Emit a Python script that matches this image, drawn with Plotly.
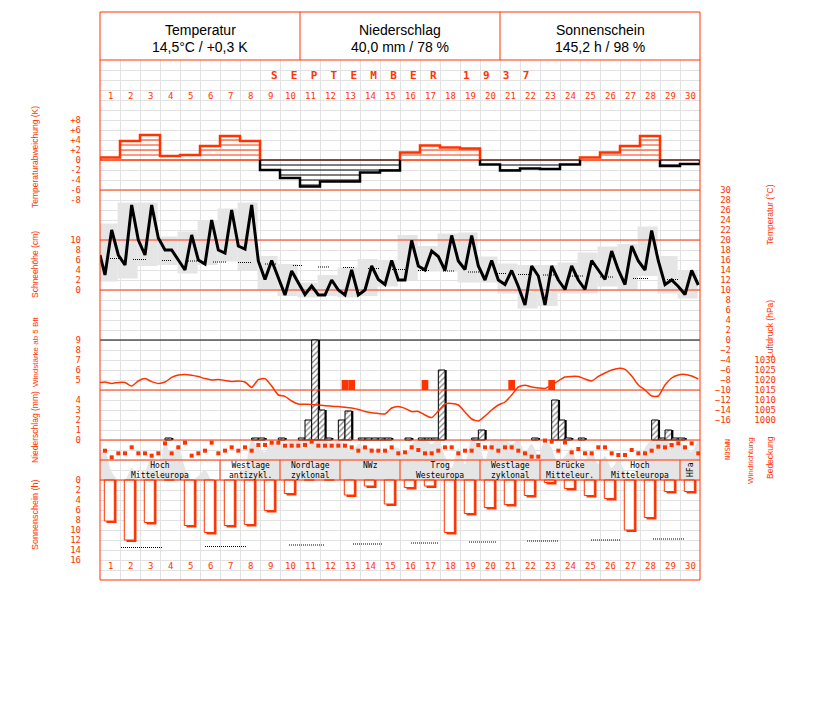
import plotly.graph_objects as go

W, H = 819, 694          # page has an 8 px body margin
OFF = 8
RED = "#ff3300"
GRID = "#e2e2e2"
GREY = "#e5e5e5"
MONO = "DejaVu Sans Mono, Liberation Mono, monospace"
SANS = "Liberation Sans, Arial, sans-serif"

# ---------------- data ----------------
days = list(range(1, 31))
header_titles = ["Temperatur", "Niederschlag", "Sonnenschein"]
header_values = ["14,5°C / +0,3 K", "40,0 mm / 78 %", "145,2 h / 98 %"]
month_title = "SEPTEMBER 1937"

# daily temperature deviation (K)
dev_k = [0.5, 3.8, 5.0, 0.8, 1.0, 2.8, 4.8, 3.8, -2.0, -3.6, -5.3, -4.3, -4.3, -2.5, -2.1,
         1.5, 2.9, 2.5, 2.3, -0.9, -2.1, -1.7, -1.8, -0.9, 0.5, 1.5, 2.8, 4.8, -1.2, -0.8]

# air temperature (°C) at 7, 14, 21 h, plus previous evening value
temp_start = 17.0
temp_07 = [13, 15, 17, 18, 14, 15.2, 17.4, 18.2, 12.1, 9, 9.1, 9, 9, 10, 11.1,
           12, 14, 13.9, 14.1, 12, 11.1, 7, 7, 10.1, 10.1, 12.1, 11.1, 14, 11.1, 9.1]
temp_14 = [22, 27, 27, 18, 21, 24, 26, 27, 15.9, 13.8, 10.8, 12, 14, 14.8, 15.9,
           19.9, 17.8, 20.9, 20.9, 15.9, 13.9, 14.8, 14.8, 14.8, 15.9, 17.8, 18.8, 21.9, 12, 13.9]
temp_21 = [17, 20, 20.4, 16, 16, 18, 18.8, 15.8, 12.5, 11.3, 9, 10, 9, 12.1, 12,
           14.8, 16.7, 15.8, 14.8, 12, 10.7, 12.8, 12, 12, 14, 14, 15.8, 15.8, 10.7, 11]
temp_max = [23.3, 27.5, 27.5, 20.7, 21.7, 24, 26.3, 27.5, 16.8, 15.2, 11.5, 13, 14.5, 16.2, 16,
            21, 18.8, 21.3, 21.5, 16.7, 15.3, 15, 15, 15.5, 17.5, 18.7, 19.2, 22.7, 16.8, 14]
temp_min = [11.7, 12.3, 14.8, 15, 13.3, 15, 15.7, 14, 10.1, 8.8, 8.5, 8.8, 8.5, 8.8, 10.7,
            12, 13.7, 13.7, 11.5, 11.5, 9.3, 6.3, 6.8, 9.3, 9.3, 10.7, 10.1, 12.8, 9.3, 8.3]
# long-term mean temperature (dotted segments)
clim_t_from = [0.9, 2.15, 3.6, 4.9, 6.15, 7.4, 8.75, 10.15, 11.4, 12.65, 13.9, 15.1, 16.4,
               17.65, 18.9, 20.25, 21.4, 22.65, 24.0, 25.5, 27.15, 28.85]
clim_t_to = [1.5, 2.8, 4.1, 5.35, 6.8, 8.1, 9.35, 10.65, 12.0, 13.25, 14.5, 15.75, 17.0,
             18.25, 19.5, 20.85, 22.1, 23.35, 24.65, 26.15, 27.9, 29.4]
clim_t = [16.3, 16.1, 15.9, 15.8, 15.6, 15.5, 15.2, 14.9, 14.6, 14.5, 14.3, 14.1, 13.9,
          13.8, 13.6, 13.3, 13.1, 13.0, 12.8, 12.6, 12.3, 12.1]

# air pressure (hPa) at 7, 14, 21 h
pres_start = 1018.7
pres_07 = [1019, 1018.8, 1020.7, 1019, 1022.8, 1020.7, 1019.8, 1019, 1020.7, 1011.8, 1007.9, 1007.1,
           1006.4, 1004.3, 1003, 1005.8, 1002.5, 1008, 1004, 1002, 1009, 1017.4, 1015.8, 1021.5,
           1020.5, 1023.5, 1025.3, 1015, 1017.5, 1022.8]
pres_14 = [1018.3, 1017, 1019.2, 1021.3, 1022.4, 1020, 1019.3, 1016.3, 1017, 1009.5, 1007.8, 1006.9,
           1006, 1003.6, 1006, 1004.2, 1001.2, 1008.3, 1000.5, 1005, 1012.5, 1016.5, 1017.5, 1021.8,
           1019.5, 1025, 1022, 1012, 1021, 1022]
pres_21 = [1018.8, 1019.5, 1018.3, 1022.5, 1021.7, 1020.3, 1019.5, 1020.2, 1012.5, 1008, 1007.5, 1006.7,
           1005.3, 1003.3, 1006.8, 1004.3, 1004.5, 1007.5, 999.5, 1007.5, 1016.5, 1016, 1019.6, 1021.7,
           1021.8, 1025.8, 1017.5, 1012, 1022.5, 1020.5]

# wind force >= 5 Bft (day, observation 0=7h 1=14h 2=21h)
wind_day = [13, 13, 17, 21, 23]
wind_obs = [0, 1, 0, 1, 1]
wind_bft = [5, 5, 5, 5, 5]

# precipitation (mm) for the intervals 7-14 h, 14-21 h, 21-7 h
precip_a = [0, 0, 0, 0.2, 0, 0, 0, 0, 0, 0, 2, 0.2, 2.9, 0.2, 0.2,
            0.2, 0.2, 0, 0, 0, 0, 0, 0, 0.2, 0, 0, 0, 0, 1, 0]
precip_b = [0, 0, 0, 0, 0, 0, 0, 0.2, 0, 0, 10, 0, 0, 0.2, 0,
            0, 0.2, 0, 0.2, 0, 0, 0.2, 4, 0, 0, 0, 0, 2, 0.2, 0]
precip_c = [0, 0, 0, 0, 0, 0, 0, 0.2, 0.2, 0.2, 3, 2, 0.2, 0.2, 0,
            0.2, 7, 0, 1, 0, 0, 0, 2, 0.2, 0, 0, 0, 0.2, 0.2, 0]

# wind direction (degrees) at 7, 14, 21 h
wdir_07 = [167, 120, 120, 300, 312, 168, 168, 228, 270, 258, 270, 258, 258, 228, 168,
           137, 120, 228, 168, 228, 228, 120, 350, 315, 120, 228, 90, 120, 228, 228]
wdir_14 = [48, 228, 78, 120, 78, 312, 228, 168, 312, 258, 330, 258, 228, 168, 228,
           228, 120, 228, 168, 228, 228, 60, 330, 137, 120, 120, 180, 168, 270, 300]
wdir_21 = [120, 120, 120, 228, 120, 120, 168, 270, 312, 258, 258, 258, 168, 168, 120,
           180, 168, 120, 270, 168, 168, 60, 168, 198, 228, 90, 120, 240, 300, 120]

# cloud cover (tenths) at 7, 14, 21 h
cloud_07 = [7, 0, 2, 9.5, 3, 2.5, 0, 3, 7, 9, 10, 10, 9, 8, 7, 6, 10, 6, 4, 5, 10, 7, 10, 6, 5, 6, 2, 8, 10, 8]
cloud_14 = [2, 3, 6, 6, 0, 0, 0, 10, 10, 10, 10, 9, 7, 8, 8, 9, 9, 3, 10, 10, 9, 9, 8, 8, 7, 3, 0, 10, 9, 7]
cloud_21 = [0, 0, 1, 8.8, 1, 0, 1, 8, 9, 10, 10, 10, 9, 7, 8, 10, 10, 8, 9, 10, 10, 6, 4, 3, 4, 5, 4, 10, 10, 10]

# sunshine duration (h)
sun_h = [8.2, 12, 8.5, 0, 9.1, 10.5, 9.1, 8.9, 6.1, 2.7, 0, 0, 3, 1.2, 4.8,
         1.5, 1.2, 10.5, 6.7, 5.5, 4.9, 3.1, 0.5, 1.7, 3.1, 3.7, 10, 7.5, 2.3, 2.3]
# astronomically possible sunshine (dotted segments)
sun_pos_from = [1.55, 5.75, 9.95, 13.15, 16.05, 18.95, 21.85, 25.05, 28.15]
sun_pos_to = [3.6, 7.8, 11.7, 14.6, 17.4, 20.35, 23.4, 26.5, 29.7]
sun_pos = [13.5, 13.3, 13.0, 12.8, 12.6, 12.4, 12.2, 12.0, 11.8]

# large-scale weather types
wt_line1 = ["Hoch", "Westlage", "Nordlage", "NWz", "Trog", "Westlage", "Brücke", "Hoch", "HFa"]
wt_line2 = ["Mitteleuropa", "antizykl.", "zyklonal", "", "Westeuropa", "zyklonal", "Mitteleur.", "Mitteleuropa", ""]
wt_first = [1, 7, 10, 13, 16, 20, 23, 26, 30]
wt_last = [6, 9, 12, 15, 19, 22, 25, 29, 30]

# ---------------- layout helpers (pixel values are page pixels) ----------------
PLOT_TOP, PLOT_BOT = 60, 580


def py(pix):
    return (H - (pix - OFF)) / H


def px(pix):
    return (pix - OFF) / W


def lin_range(zero_pix, px_per_unit, ref=0.0):
    return [ref + (zero_pix - PLOT_BOT) / px_per_unit, ref + (zero_pix - PLOT_TOP) / px_per_unit]


def obs_x(d, j):
    return d - 0.25 + j / 3.0


def interleave(a, b, c):
    out = []
    for i in range(30):
        out += [a[i], b[i], c[i]]
    return out


obs_pos = [obs_x(d, j) for d in days for j in range(3)]
slot_pos = [obs_x(d, j) + 1 / 6.0 for d in days for j in range(3)]

fig = go.Figure()

# 1) cloud cover (base axis y)
cloud = interleave(cloud_07, cloud_14, cloud_21)
fig.add_trace(go.Scatter(x=[0.5] + obs_pos + [30.5], y=[cloud[0]] + cloud + [cloud[-1]],
                         mode="lines", line=dict(width=0, shape="spline", smoothing=0.8),
                         fill="tozeroy", fillcolor=GREY, yaxis="y", hoverinfo="skip"))

# 2) temperature range boxes (y2)
fig.add_trace(go.Bar(x=[d - 0.12 for d in days], base=temp_min,
                     y=[mx - mn for mx, mn in zip(temp_max, temp_min)], width=1.0,
                     marker=dict(color=GREY, line=dict(width=0)), yaxis="y2"))

# 3) snow axis lines (y3)
fig.add_trace(go.Scatter(x=[0.5, 30.5, None, 0.5, 30.5], y=[10, 10, None, 0, 0], mode="lines",
                         line=dict(color=RED, width=1), yaxis="y3"))

# 4) temperature line (y4)
fig.add_trace(go.Scatter(x=[0.5, 30.5], y=[0, 0], mode="lines", line=dict(color="black", width=1), yaxis="y4"))
cx, cy = [], []
for a, b, v in zip(clim_t_from, clim_t_to, clim_t):
    cx += [a, b, None]
    cy += [v, v, None]
fig.add_trace(go.Scatter(x=cx, y=cy, mode="lines", line=dict(color="black", width=1, dash="1px,1px"), yaxis="y4"))
fig.add_trace(go.Scatter(x=[0.5] + obs_pos, y=[temp_start] + interleave(temp_07, temp_14, temp_21),
                         mode="lines", line=dict(color="black", width=3), yaxis="y4"))

# 5) temperature deviation (y5)
fig.add_trace(go.Scatter(x=[0.5, 30.5, None, 0.5, 30.5], y=[0, 0, None, -6, -6], mode="lines",
                         line=dict(color=RED, width=1), yaxis="y5"))
for sign, col in ((1, RED), (-1, "black")):
    hx, hy = [], []
    ox, oy = [], []
    i = 0
    while i < 30:
        if sign * dev_k[i] > 0:
            j = i
            ox += [i + 0.5]
            oy += [0]
            while j < 30 and sign * dev_k[j] > 0:
                ox += [j + 0.5, j + 1.5]
                oy += [dev_k[j], dev_k[j]]
                k = 0
                while k <= abs(dev_k[j]):
                    hx += [j + 0.5, j + 1.5, None]
                    hy += [sign * k, sign * k, None]
                    k += 1
                j += 1
            ox += [j + 0.5, None]
            oy += [0, None]
            i = j
        else:
            i += 1
    fig.add_trace(go.Scatter(x=hx, y=hy, mode="lines", line=dict(color=col, width=1), yaxis="y5"))
    fig.add_trace(go.Scatter(x=ox, y=oy, mode="lines", line=dict(color=col, width=2.5), yaxis="y5"))

# 6) precipitation (y6)
precip = interleave(precip_a, precip_b, precip_c)
pxs = [x for x, v in zip(slot_pos, precip) if v > 0]
pvs = [v for v in precip if v > 0]
fig.add_trace(go.Bar(x=[x + 0.085 for x in pxs], y=pvs, width=1 / 3.0,
                     marker=dict(color="black", line=dict(width=0)), yaxis="y6"))
fig.add_trace(go.Bar(x=pxs, y=pvs, width=1 / 3.0,
                     marker=dict(color="white", line=dict(color="black", width=1),
                                 pattern=dict(shape="/", fgcolor="black", bgcolor="white", size=4, solidity=0.3)),
                     yaxis="y6"))
fig.add_trace(go.Scatter(x=[0.5, 30.5], y=[0, 0], mode="lines", line=dict(color=RED, width=1), yaxis="y6"))

# 7) wind force (y7)
fig.add_trace(go.Bar(x=[obs_x(d, j) for d, j in zip(wind_day, wind_obs)], base=[4] * len(wind_bft),
                     y=[b - 4 for b in wind_bft], width=1 / 3.0,
                     marker=dict(color=RED, line=dict(width=0)), yaxis="y7"))
fig.add_trace(go.Scatter(x=[0.5, 30.5], y=[4, 4], mode="lines", line=dict(color=RED, width=1), yaxis="y7"))

# 8) air pressure (y8)
fig.add_trace(go.Scatter(x=[0.5] + obs_pos, y=[pres_start] + interleave(pres_07, pres_14, pres_21),
                         mode="lines", line=dict(color=RED, width=1.5, shape="spline", smoothing=0.6), yaxis="y8"))

# 9) wind direction (y9)
fig.add_trace(go.Scatter(x=obs_pos, y=interleave(wdir_07, wdir_14, wdir_21), mode="markers",
                         marker=dict(symbol="square", size=4, color=RED, line=dict(width=0)), yaxis="y9"))
fig.add_trace(go.Scatter(x=[0.5, 30.5], y=[0, 0], mode="lines", line=dict(color=RED, width=1), yaxis="y9"))

# 10) sunshine (y10)
fig.add_trace(go.Bar(x=[d - 0.035 + 0.11 for d in days], y=[s + 0.4 if s > 0 else 0 for s in sun_h], width=0.5,
                     marker=dict(color=RED, line=dict(width=0)), yaxis="y10"))
fig.add_trace(go.Bar(x=[d - 0.035 for d in days], y=sun_h, width=0.5,
                     marker=dict(color="white", line=dict(color=RED, width=1)), yaxis="y10"))
sx, sy = [], []
for a, b, v in zip(sun_pos_from, sun_pos_to, sun_pos):
    sx += [a, b, None]
    sy += [v, v, None]
fig.add_trace(go.Scatter(x=sx, y=sy, mode="lines", line=dict(color="black", width=1, dash="1px,1px"), yaxis="y10"))
fig.add_trace(go.Scatter(x=[0.5, 30.5], y=[0, 0], mode="lines", line=dict(color=RED, width=1), yaxis="y10"))

# ---------------- axes ----------------
tickfont = dict(family=MONO, size=9, color=RED)
LEFT_POS = px(81)


def yax(rng, **kw):
    d = dict(range=rng, overlaying="y", anchor="free", position=LEFT_POS, side="left",
             showgrid=False, zeroline=False, showline=False, ticks="", showticklabels=False,
             fixedrange=True, tickfont=tickfont)
    d.update(kw)
    return d


dev_ticks = [8, 6, 4, 2, 0, -2, -4, -6, -8]
layout_axes = dict(
    xaxis=dict(domain=[px(100), px(700)], range=[0.5, 30.5], showgrid=True, gridcolor=GRID, gridwidth=1,
               tick0=0.5, dtick=1, showticklabels=False, ticks="", zeroline=False, showline=False, fixedrange=True),
    yaxis=dict(domain=[py(PLOT_BOT), py(PLOT_TOP)], range=lin_range(480, 4), showgrid=True, gridcolor=GRID,
               gridwidth=1, tick0=0, dtick=2.5, showticklabels=False, ticks="", zeroline=False, showline=False,
               fixedrange=True),
    yaxis2=yax(lin_range(340, 5)),
    yaxis3=yax(lin_range(290, 5), showticklabels=True, tickvals=[0, 2, 4, 6, 8, 10]),
    yaxis4=yax(lin_range(340, 5), showticklabels=True, position=px(731),
               tickvals=list(range(-16, 31, 2))),
    yaxis5=yax(lin_range(160, 5), showticklabels=True, tickvals=dev_ticks,
               ticktext=[("+" if v > 0 else "") + str(v) for v in dev_ticks]),
    yaxis6=yax(lin_range(440, 10), showticklabels=True, tickvals=[0, 1, 2, 3, 4]),
    yaxis7=yax(lin_range(430, 10), showticklabels=True, tickvals=[5, 6, 7, 8, 9]),
    yaxis8=yax(lin_range(420, 2, 1000), showticklabels=True, position=px(776),
               tickvals=[1000, 1005, 1010, 1015, 1020, 1025, 1030]),
    yaxis9=yax(lin_range(460, 1 / 18.0)),
    yaxis10=yax([(PLOT_BOT - 480) / 5, (PLOT_TOP - 480) / 5], showticklabels=True,
                tickvals=[0, 2, 4, 6, 8, 10, 12, 14, 16]),
)

# ---------------- shapes & annotations ----------------
shapes = [
    dict(type="rect", xref="paper", yref="paper", x0=px(100), x1=px(700), y0=py(580), y1=py(12),
         line=dict(color=RED, width=1), layer="above"),
    dict(type="line", xref="paper", yref="paper", x0=px(100), x1=px(700), y0=py(60), y1=py(60),
         line=dict(color=RED, width=1), layer="above"),
    dict(type="line", xref="paper", yref="paper", x0=px(300), x1=px(300), y0=py(60), y1=py(12),
         line=dict(color=RED, width=1), layer="above"),
    dict(type="line", xref="paper", yref="paper", x0=px(500), x1=px(500), y0=py(60), y1=py(12),
         line=dict(color=RED, width=1), layer="above"),
]
for f in wt_first[1:]:
    shapes.append(dict(type="line", xref="x", yref="paper", x0=f - 0.5, x1=f - 0.5, y0=py(480), y1=py(460),
                       line=dict(color=RED, width=1), layer="above"))


def note(x, y, text, size, color="black", family=SANS, xref="paper", angle=0):
    return dict(x=x, y=y, xref=xref, yref="paper", text=text, showarrow=False, textangle=angle,
                xanchor="center", yanchor="middle", font=dict(family=family, size=size, color=color))


ann = []
for k, (t, v) in enumerate(zip(header_titles, header_values)):
    cxp = px(200 + 200 * k)
    ann.append(note(cxp, py(30), t, 14))
    ann.append(note(cxp, py(47), v, 14))
NB = "\u00a0"
mw = month_title.split(" ")
title_txt = (NB * 2).join(mw[0]) + NB * 4 + (NB * 2).join(mw[1])
ann.append(note(px(400), py(75), "<b>" + title_txt + "</b>", 11, RED, MONO))
for d in days:
    for yy in (96, 566):
        ann.append(note(d, py(yy), str(d), 9, RED, MONO, xref="x"))
for l1, l2, f, l in zip(wt_line1, wt_line2, wt_first, wt_last):
    cxd = (f + l) / 2.0
    if l1 == "HFa":
        ann.append(note(cxd, py(470), l1, 8, "black", MONO, xref="x", angle=-90))
    elif l2:
        ann.append(note(cxd, py(470), l1 + "<br>" + l2, 8, "black", MONO, xref="x"))
    else:
        ann.append(note(cxd, py(465.5), l1, 8, "black", MONO, xref="x"))

side_titles = [
    ("Temperaturabweichung (K)", 35, 157, 8.5), ("Schneehöhe (cm)", 35, 265, 8.5),
    ("Windstärke ab 5 Bft", 35, 352, 8), ("Niederschlag (mm)", 35, 427, 8.5), ("Sonnenschein (h)", 35, 515, 9),
    ("Temperatur (°C)", 770, 215, 8.5), ("Luftdruck (hPa)", 770, 329, 8.5), ("Windrichtung", 750, 461, 8),
    ("Bedeckung", 770, 458, 8.5),
]
for t, xx, yy, sz in side_titles:
    ann.append(note(px(xx), py(yy), t, sz, RED, SANS, angle=-90))
ann.append(note(px(728), py(450), "NOSWN", 7, RED, MONO, angle=-90))

fig.update_layout(
    width=W, height=H, margin=dict(l=0, r=0, t=0, b=0), paper_bgcolor="white", plot_bgcolor="white",
    showlegend=False, barmode="overlay", shapes=shapes, annotations=ann, **layout_axes,
)

fig.write_html("out.html")
